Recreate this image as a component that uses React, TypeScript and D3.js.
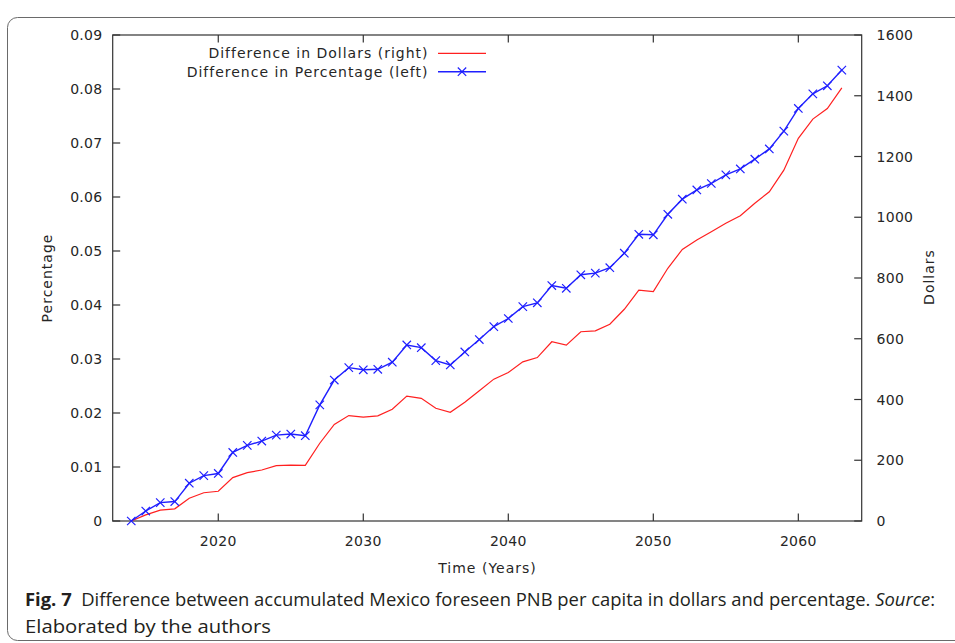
import React from "react";
import * as d3 from "d3";

const years = [
  2014, 2015, 2016, 2017, 2018, 2019, 2020, 2021, 2022, 2023, 2024, 2025, 2026, 2027, 2028, 2029,
  2030, 2031, 2032, 2033, 2034, 2035, 2036, 2037, 2038, 2039, 2040, 2041, 2042, 2043, 2044, 2045,
  2046, 2047, 2048, 2049, 2050, 2051, 2052, 2053, 2054, 2055, 2056, 2057, 2058, 2059, 2060, 2061,
  2062, 2063,
];

const percentDiff = [
  0, 0.00185, 0.0034, 0.0036, 0.007, 0.0084, 0.0088, 0.0127, 0.014, 0.0148, 0.0159, 0.0161, 0.0158,
  0.0215, 0.0261, 0.0284, 0.028, 0.0281, 0.0294, 0.0326, 0.0321, 0.0297, 0.0289, 0.0313, 0.0336,
  0.036, 0.0375, 0.0397, 0.0404, 0.0436, 0.0431, 0.0456, 0.0459, 0.0469, 0.0496, 0.0531, 0.053,
  0.0568, 0.0596, 0.0613, 0.0625, 0.0641, 0.0652, 0.067, 0.0689, 0.0722, 0.0764, 0.0791, 0.0806,
  0.0835,
];

const dollarDiff = [
  0, 20, 36, 40, 75, 93, 98, 143, 159, 168, 182, 184, 183, 256, 318, 347, 342, 346, 368, 411, 404,
  371, 358, 391, 429, 467, 489, 524, 538, 590, 579, 623, 626, 648, 697, 760, 755, 832, 894, 925, 952,
  980, 1005, 1046, 1084, 1155, 1260, 1323, 1358, 1426,
];

const xTicks = [2020, 2030, 2040, 2050, 2060];
const leftTicks = [0, 0.01, 0.02, 0.03, 0.04, 0.05, 0.06, 0.07, 0.08, 0.09];
const rightTicks = [0, 200, 400, 600, 800, 1000, 1200, 1400, 1600];

const legendLabels = ["Difference in Dollars (right)", "Difference in Percentage (left)"];

const W = 955;
const H = 643;
const plot = { left: 112.7, right: 861.7, top: 35, bottom: 521 };

export default function App() {
  const x = d3.scaleLinear().domain([2012.72, 2064.37]).range([plot.left, plot.right]);
  const yL = d3.scaleLinear().domain([0, 0.09]).range([plot.bottom, plot.top]);
  const yR = d3.scaleLinear().domain([0, 1600]).range([plot.bottom, plot.top]);

  const redLine = d3
    .line<number>()
    .x((_, i) => x(years[i]))
    .y((d) => yR(d))(dollarDiff) as string;
  const blueLine = d3
    .line<number>()
    .x((_, i) => x(years[i]))
    .y((d) => yL(d))(percentDiff) as string;

  const tickFont = {
    fontFamily: "DejaVu Sans, Verdana, sans-serif",
    fontSize: 14,
    fill: "#262626",
    letterSpacing: 0.3,
  } as const;
  const labelFont = {
    fontFamily: "DejaVu Sans, Verdana, sans-serif",
    fontSize: 14,
    fill: "#262626",
    letterSpacing: 1,
  } as const;

  const tickLen = 7.5;
  const blue = "#1f1fff";
  const red = "#ff2020";
  const m = 4.2;
  const cross = (cx: number, cy: number, key: string | number) => (
    <path
      key={key}
      d={`M${cx - m},${cy - m}L${cx + m},${cy + m}M${cx - m},${cy + m}L${cx + m},${cy - m}`}
      stroke={blue}
      strokeWidth={1.2}
      fill="none"
    />
  );

  const fmtL = (v: number) => (v === 0 ? "0" : v.toFixed(2));

  return (
    <svg
      width={W}
      height={H}
      style={{ position: "absolute", left: 0, top: 0, display: "block", background: "#fff" }}
    >
      {/* outer figure box */}
      <rect x={7.5} y={17.5} width={970} height={623} rx={10} ry={10} fill="none" stroke="#6a6a6a" strokeWidth={1} />

      {/* plot frame */}
      <rect
        x={plot.left}
        y={plot.top}
        width={plot.right - plot.left}
        height={plot.bottom - plot.top}
        fill="none"
        stroke="#333"
        strokeWidth={1.2}
      />

      {/* x ticks bottom & top */}
      {xTicks.map((t) => (
        <g key={"x" + t}>
          <line x1={x(t)} x2={x(t)} y1={plot.bottom} y2={plot.bottom - tickLen} stroke="#333" strokeWidth={1.2} />
          <line x1={x(t)} x2={x(t)} y1={plot.top} y2={plot.top + tickLen} stroke="#333" strokeWidth={1.2} />
          <text x={x(t)} y={545.5} textAnchor="middle" {...tickFont}>
            {t}
          </text>
        </g>
      ))}

      {/* left ticks */}
      {leftTicks.map((t) => (
        <g key={"l" + t}>
          <line x1={plot.left} x2={plot.left + tickLen} y1={yL(t)} y2={yL(t)} stroke="#333" strokeWidth={1.2} />
          <text x={102.5} y={yL(t)} dy="0.36em" textAnchor="end" {...tickFont}>
            {fmtL(t)}
          </text>
        </g>
      ))}

      {/* right ticks */}
      {rightTicks.map((t) => (
        <g key={"r" + t}>
          <line x1={plot.right} x2={plot.right - tickLen} y1={yR(t)} y2={yR(t)} stroke="#333" strokeWidth={1.2} />
          <text x={876.5} y={yR(t)} dy="0.36em" textAnchor="start" {...tickFont}>
            {t}
          </text>
        </g>
      ))}

      {/* axis titles */}
      <text x={487.5} y={572.5} textAnchor="middle" {...labelFont}>
        Time (Years)
      </text>
      <text transform="translate(52,278) rotate(-90)" textAnchor="middle" {...labelFont}>
        Percentage
      </text>
      <text transform="translate(934,277) rotate(-90)" textAnchor="middle" {...labelFont}>
        Dollars
      </text>

      {/* series */}
      <path d={redLine} fill="none" stroke={red} strokeWidth={1.2} />
      <path d={blueLine} fill="none" stroke={blue} strokeWidth={1.4} />
      {percentDiff.map((v, i) => cross(x(years[i]), yL(v), i))}

      {/* legend */}
      <text x={428.5} y={53.3} dy="0.36em" textAnchor="end" {...labelFont}>
        {legendLabels[0]}
      </text>
      <line x1={438} x2={486} y1={53.3} y2={53.3} stroke={red} strokeWidth={1.2} />
      <text x={428.5} y={71.7} dy="0.36em" textAnchor="end" {...labelFont}>
        {legendLabels[1]}
      </text>
      <line x1={438} x2={486} y1={71.7} y2={71.7} stroke={blue} strokeWidth={1.4} />
      {cross(462, 71.7, "leg")}

      {/* caption */}
      <text
        x={25}
        y={606}
        fontFamily="'Open Sans', 'Noto Sans', sans-serif"
        fontSize={18}
        fill="#231f20"
        textLength={910}
        lengthAdjust="spacingAndGlyphs"
      >
        <tspan fontWeight="bold">Fig. 7</tspan>
        <tspan>{"\u00a0\u00a0Difference between accumulated Mexico foreseen PNB per capita in dollars and percentage. "}</tspan>
        <tspan fontStyle="italic">Source</tspan>
        <tspan>:</tspan>
      </text>
      <text
        x={25}
        y={632.5}
        fontFamily="'Open Sans', 'Noto Sans', sans-serif"
        fontSize={18}
        fill="#231f20"
        textLength={246}
        lengthAdjust="spacingAndGlyphs"
      >
        Elaborated by the authors
      </text>
    </svg>
  );
}
